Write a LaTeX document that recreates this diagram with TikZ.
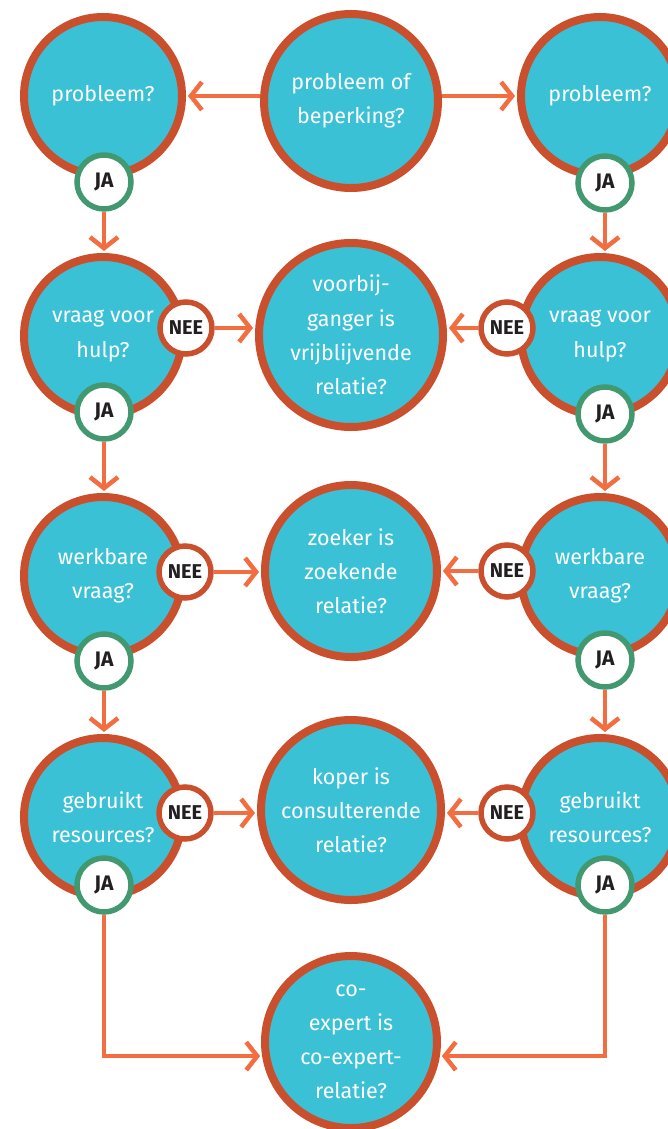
\documentclass[tikz,border=0pt]{standalone}
\usepackage{fontspec}
\setmainfont{Fira Sans}
\usetikzlibrary{arrows.meta}
\definecolor{cyanf}{HTML}{3BC1D6}
\definecolor{bord}{HTML}{CA4F2D}
\definecolor{arrc}{HTML}{F26D3F}
\definecolor{grn}{HTML}{43996F}
\definecolor{txtd}{HTML}{221F20}
\begin{document}
\begin{tikzpicture}[x=1pt,y=-1pt,
  bigc/.style={circle, draw=bord, fill=cyanf, line width=8pt, minimum size=2*#1-8pt, inner sep=0pt,
    text=white, align=center, font=\fontsize{21.5}{34.2}\selectfont},
  jacirc/.style={circle, draw=grn, fill=white, line width=5.5pt, minimum size=54pt, inner sep=0pt,
    text=txtd, font=\fontsize{21}{22}\selectfont\bfseries},
  neecirc/.style={circle, draw=bord, fill=white, line width=5.5pt, minimum size=52pt, inner sep=0pt,
    text=txtd, font=\fontsize{20}{22}\selectfont\bfseries},
  arr/.style={draw=arrc, line width=4.5pt, -{Straight Barb[length=11pt,width=28pt]}, shorten >=2pt},
  seg/.style={draw=arrc, line width=4.5pt}
]
\useasboundingbox (0,0) rectangle (668,1129);
\fill[white] (0,0) rectangle (668,1129);

% big circles
\node[bigc=83] (L1) at (103,96) {probleem?};
\node[bigc=83] (L2) at (103,336) {vraag voor\\hulp?};
\node[bigc=83] (L3) at (103,576) {werkbare\\vraag?};
\node[bigc=83] (L4) at (103,817) {gebruikt\\resources?};

\node[bigc=83] (R1) at (600,96) {probleem?};
\node[bigc=83] (R2) at (600,336) {vraag voor\\hulp?};
\node[bigc=83] (R3) at (600,576) {werkbare\\vraag?};
\node[bigc=83] (R4) at (600,817) {gebruikt\\resources?};

\node[bigc=91] (M1) at (351,101) {probleem of\\beperking?};
\node[bigc=96] (M2) at (351,335) {voorbij-\\ganger is\\vrijblijvende\\relatie?};
\node[bigc=90] (M3) at (351,571) {zoeker is\\zoekende\\relatie?};
\node[bigc=94] (M4) at (351,810) {koper is\\consulterende\\relatie?};
\node[bigc=90] (B) at (351,1042) {co-\\expert is\\co-expert-\\relatie?};

% JA circles
\node[jacirc] (JL1) at (104,182) {JA};
\node[jacirc] (JL2) at (104,412) {JA};
\node[jacirc] (JL3) at (104,661) {JA};
\node[jacirc] (JL4) at (104,885) {JA};
\node[jacirc] (JR1) at (605,183) {JA};
\node[jacirc] (JR2) at (605,414) {JA};
\node[jacirc] (JR3) at (605,660) {JA};
\node[jacirc] (JR4) at (605,885) {JA};

% NEE circles
\node[neecirc] (NL2) at (186,328) {NEE};
\node[neecirc] (NL3) at (185,572) {NEE};
\node[neecirc] (NL4) at (185,813) {NEE};
\node[neecirc] (NR2) at (507,328) {NEE};
\node[neecirc] (NR3) at (507,571) {NEE};
\node[neecirc] (NR4) at (507,813) {NEE};

% top row arrows
\draw[arr] (L1.east -| M1.west) -- (L1.east);
\draw[arr] (R1.west -| M1.east) -- (R1.west);

% vertical arrows
\draw[arr] (JL1.south) -- (JL1.south |- L2.north);
\draw[arr] (JL2.south) -- (JL2.south |- L3.north);
\draw[arr] (JL3.south) -- (JL3.south |- L4.north);
\draw[arr] (JR1.south) -- (JR1.south |- R2.north);
\draw[arr] (JR2.south) -- (JR2.south |- R3.north);
\draw[arr] (JR3.south) -- (JR3.south |- R4.north);

% NEE arrows
\draw[arr] (NL2.east) -- (NL2.east -| M2.west);
\draw[arr] (NL3.east) -- (NL3.east -| M3.west);
\draw[arr] (NL4.east) -- (NL4.east -| M4.west);
\draw[arr] (NR2.west) -- (NR2.west -| M2.east);
\draw[arr] (NR3.west) -- (NR3.west -| M3.east);
\draw[arr] (NR4.west) -- (NR4.west -| M4.east);

% bottom connectors
\draw[arr] (JL4.south) |- (B.189);
\draw[arr] (JR4.south) |- (B.351);
\end{tikzpicture}
\end{document}
